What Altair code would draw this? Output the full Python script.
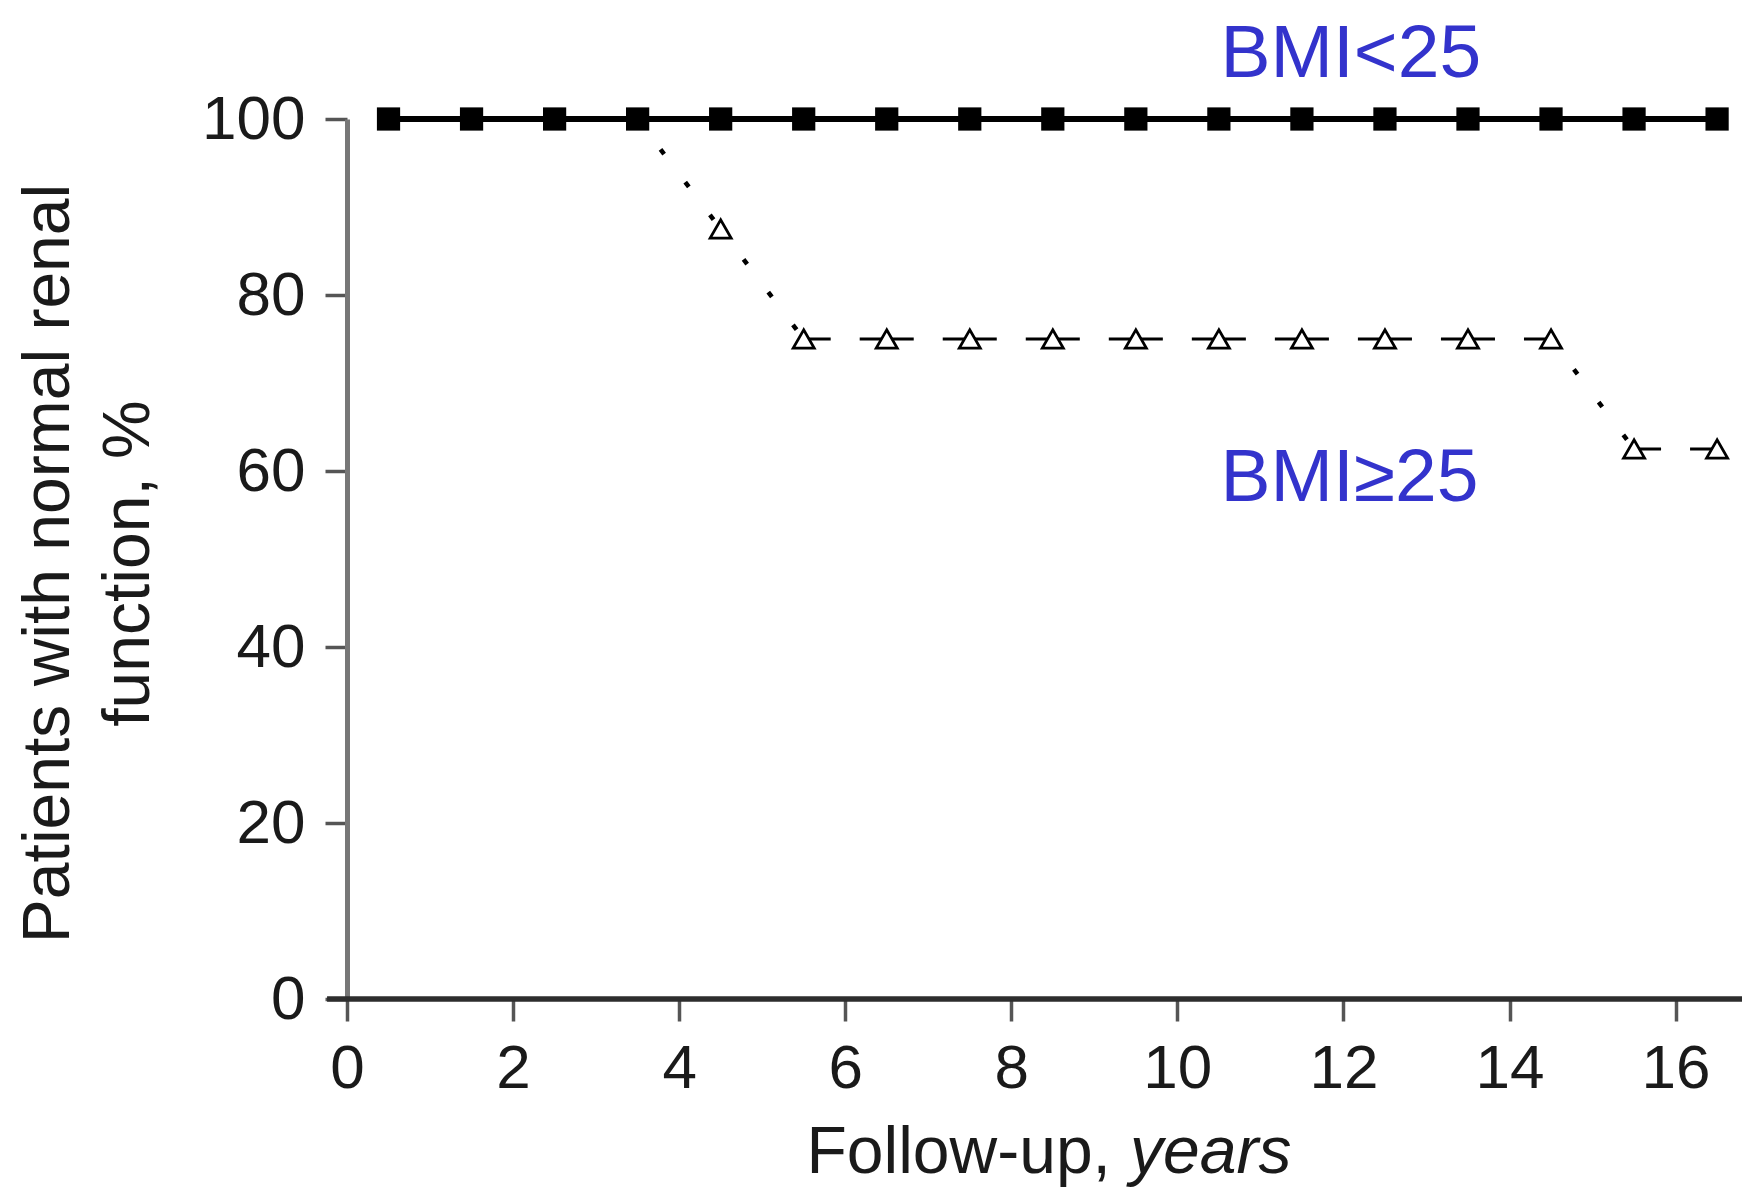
import altair as alt
import pandas as pd

# ---- data ----
lo_x = [0.5, 1.5, 2.5, 3.5, 4.5, 5.5, 6.5, 7.5, 8.5, 9.5, 10.5, 11.5, 12.5, 13.5, 14.5, 15.5, 16.5]
lo_y = [100, 100, 100, 100, 100, 100, 100, 100, 100, 100, 100, 100, 100, 100, 100, 100, 100]

hi_x = [3.5, 4.5, 5.5, 6.5, 7.5, 8.5, 9.5, 10.5, 11.5, 12.5, 13.5, 14.5, 15.5, 16.5]
hi_y = [100, 87.5, 75, 75, 75, 75, 75, 75, 75, 75, 75, 75, 62.5, 62.5]

x_ticks = [0, 2, 4, 6, 8, 10, 12, 14, 16]
y_ticks = [0, 20, 40, 60, 80, 100]

labels = ["BMI<25", "BMI\u226525"]
label_x = [10.52, 10.52]
label_y = [104.8, 56.6]

x_title_parts = ["Follow-up,", "years"]
x_title_x = [9.2, 9.43]
x_title_y = [-19.8, -19.8]

y_title = ["Patients with normal renal", "function, %"]

FONT = "Liberation Sans"

# ---- tables ----
lo_df = pd.DataFrame({"x": lo_x, "y": lo_y})
hi_pts = pd.DataFrame({"x": hi_x[1:], "y": hi_y[1:]})
seg_rows = []
for i in range(len(hi_x) - 1):
    kind = "drop" if hi_y[i] != hi_y[i + 1] else "flat"
    seg_rows.append({"seg": i, "kind": kind, "x": hi_x[i], "y": hi_y[i]})
    seg_rows.append({"seg": i, "kind": kind, "x": hi_x[i + 1], "y": hi_y[i + 1]})
seg_df = pd.DataFrame(seg_rows)
drop_df = seg_df[seg_df["kind"] == "drop"]
flat_df = seg_df[seg_df["kind"] == "flat"]
lab_df = pd.DataFrame({"label": labels, "x": label_x, "y": label_y})
axis_line_df = pd.DataFrame({"x": [-0.24], "x2": [17.0], "y": [0]})
title_a = pd.DataFrame({"t": [x_title_parts[0]], "x": [x_title_x[0]], "y": [x_title_y[0]]})
title_b = pd.DataFrame({"t": [x_title_parts[1]], "x": [x_title_x[1]], "y": [x_title_y[1]]})

xs = alt.Scale(domain=[0, 16.8], nice=False, zero=False)
ys = alt.Scale(domain=[0, 100], nice=False, zero=False)

x_axis = alt.Axis(
    values=x_ticks, title=None, domain=False, grid=False,
    tickSize=22, tickWidth=3.5, tickColor="#555555",
    labelFont=FONT, labelFontSize=62, labelColor="#1a1a1a", labelPadding=17,
    labelFlush=False, labelOverlap=False,
)
y_axis = alt.Axis(
    values=y_ticks, title=y_title, domain=True, domainColor="#777777", domainWidth=5,
    grid=False, tickSize=22, tickWidth=3.5, tickColor="#555555",
    labelFont=FONT, labelFontSize=62, labelColor="#1a1a1a", labelPadding=20,
    labelOverlap=False,
    titleFont=FONT, titleFontSize=66, titleFontWeight="normal", titleColor="#1a1a1a",
    titleAngle=270, titleAlign="center", titleBaseline="alphabetic",
    titleLineHeight=80, titleX=-279, titleY=444,
)


def X(field="x"):
    return alt.X(f"{field}:Q", scale=xs, axis=x_axis)


def Y(field="y"):
    return alt.Y(f"{field}:Q", scale=ys, axis=y_axis)


x_rule = alt.Chart(axis_line_df).mark_rule(color="#2d2d2d", strokeWidth=5.5).encode(
    x=X("x"), x2="x2:Q", y=Y("y")
)

drops = alt.Chart(drop_df).mark_line(
    color="black", strokeWidth=4.5, strokeDash=[6, 35], strokeDashOffset=3
).encode(x=X(), y=Y(), detail="seg:N")

flats = alt.Chart(flat_df).mark_line(
    color="black", strokeWidth=3.2, strokeDash=[27, 29]
).encode(x=X(), y=Y(), detail="seg:N")

tris = alt.Chart(hi_pts).mark_point(
    shape="triangle-up", size=440, filled=True, fill="white", stroke="black",
    strokeWidth=2.8, opacity=1
).encode(x=X(), y=Y())

lo_line = alt.Chart(lo_df).mark_line(color="black", strokeWidth=6).encode(
    x=X(), y=Y()
)

squares = alt.Chart(lo_df).mark_square(size=540, color="black", opacity=1).encode(
    x=X(), y=Y()
)

ann = alt.Chart(lab_df).mark_text(
    font=FONT, fontSize=75, color="#3333cc", align="left", baseline="alphabetic"
).encode(x=X(), y=Y(), text="label:N")

xt_a = alt.Chart(title_a).mark_text(
    font=FONT, fontSize=66, color="#1a1a1a", align="right", baseline="alphabetic"
).encode(x=X(), y=Y(), text="t:N")

xt_b = alt.Chart(title_b).mark_text(
    font=FONT, fontSize=66, color="#1a1a1a", align="left", baseline="alphabetic",
    fontStyle="italic"
).encode(x=X(), y=Y(), text="t:N")

chart = alt.layer(
    lo_line, x_rule, drops, flats, tris, squares, ann, xt_a, xt_b
).properties(
    width=1395, height=880,
    autosize=alt.AutoSizeParams(type="none"),
    padding={"left": 339, "top": 111, "right": 0, "bottom": 188},
).configure_view(strokeWidth=0)

chart.save("out.html", embed_options={"renderer": "svg", "actions": False})
